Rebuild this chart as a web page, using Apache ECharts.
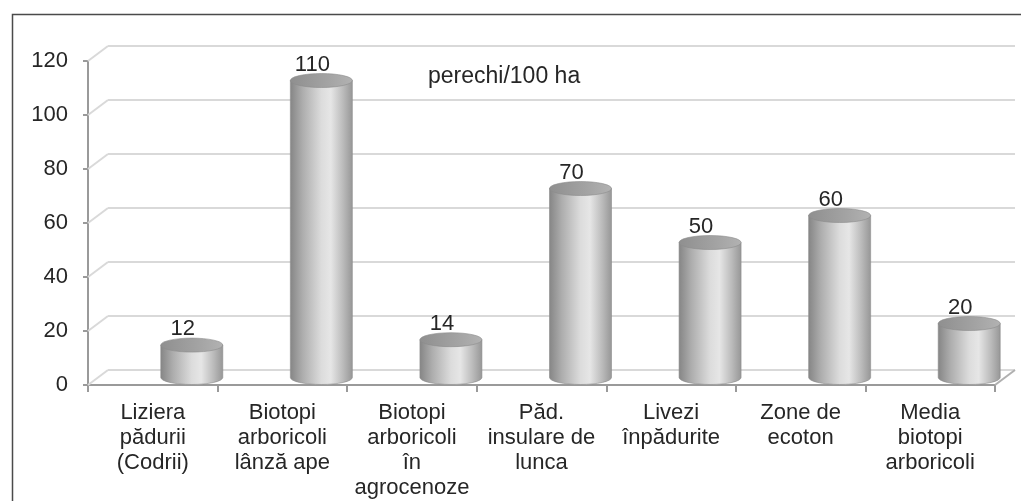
<!DOCTYPE html>
<html>
<head>
<meta charset="utf-8">
<script src="https://cdn.jsdelivr.net/npm/echarts@6/dist/echarts.min.js"></script>
<style>
html,body{margin:0;padding:0;background:#fff;}
#c{width:1021px;height:501px;}
</style>
</head>
<body>
<div id="c"></div>
<script>
const categories = [
  'Liziera\npădurii\n(Codrii)',
  'Biotopi\narboricoli\nlânză ape',
  'Biotopi\narboricoli\nîn\nagrocenoze',
  'Păd.\ninsulare de\nlunca',
  'Livezi\nînpădurite',
  'Zone de\necoton',
  'Media\nbiotopi\narboricoli'
];
const values = [12, 110, 14, 70, 50, 60, 20];
const yTicks = [0, 20, 40, 60, 80, 100, 120];
const unitText = 'perechi/100 ha';

const FONT = '"Liberation Sans", Arial, sans-serif';
const DX = 20, DY = 15;          // depth offset of back wall
const BAR_DX = 39, BAR_DY = 7.5; // bar placement offset
const HW = 31, RY = 7;

const bodyGrad = {
  type: 'linear', x: 0, y: 0, x2: 1, y2: 0,
  colorStops: [
    {offset: 0, color: '#858585'},
    {offset: 0.2, color: '#adadad'},
    {offset: 0.5, color: '#dcdcdc'},
    {offset: 0.65, color: '#e6e6e6'},
    {offset: 0.85, color: '#bababa'},
    {offset: 1, color: '#969696'}
  ]
};
const topGrad = {
  type: 'linear', x: 0, y: 0, x2: 1, y2: 0,
  colorStops: [
    {offset: 0, color: '#8f8f8f'},
    {offset: 0.6, color: '#a3a3a3'},
    {offset: 1, color: '#b2b2b2'}
  ]
};

const chart = echarts.init(document.getElementById('c'), null, {renderer: 'canvas'});

chart.setOption({
  animation: false,
  backgroundColor: '#ffffff',
  graphic: [
    {type: 'rect', left: 10, top: 12, shape: {x: 0, y: 0, width: 1010, height: 495},
     style: {fill: 'none', stroke: '#4a4a4a', lineWidth: 1.5}, z: 100},
    {type: 'text', left: 428, top: 65, style: {text: unitText, font: '23px ' + FONT, fill: '#262626'}, z: 100}
  ],
  grid: [
    {left: 88, right: 26, top: 61, bottom: 116, containLabel: false},
    {left: 88 + DX, right: 26 - DX, top: 61 - DY, bottom: 116 + DY, containLabel: false}
  ],
  xAxis: [
    {
      type: 'category', gridIndex: 0, data: categories,
      boundaryGap: true,
      axisLine: {show: true, lineStyle: {color: '#9a9a9a', width: 2}},
      axisTick: {show: true, length: 7, lineStyle: {color: '#9a9a9a', width: 2}},
      axisLabel: {interval: 0, margin: 15, color: '#262626', fontSize: 22, lineHeight: 25, fontFamily: FONT},
      splitLine: {show: false}
    },
    {type: 'value', gridIndex: 1, show: false, min: 0, max: 1}
  ],
  yAxis: [
    {
      type: 'value', gridIndex: 0, min: 0, max: 120, interval: 20,
      axisLine: {show: true, lineStyle: {color: '#9a9a9a', width: 2}},
      axisTick: {show: true, length: 5, lineStyle: {color: '#9a9a9a', width: 2}},
      axisLabel: {margin: 20, color: '#262626', fontSize: 22, fontFamily: FONT},
      splitLine: {show: false}
    },
    {
      type: 'value', gridIndex: 1, min: 0, max: 120, interval: 20,
      axisLine: {show: false}, axisTick: {show: false}, axisLabel: {show: false},
      splitLine: {show: true, lineStyle: {color: '#d9d9d9', width: 2}}
    }
  ],
  series: [
    {
      type: 'custom', xAxisIndex: 0, yAxisIndex: 0, clip: false, z: 1,
      data: yTicks.map(v => [0, v]),
      renderItem: function (params, api) {
        const v = api.value(1);
        const p = api.coord([0, v]);
        const cs = params.coordSys;
        const x0 = cs.x;
        const children = [{
          type: 'line',
          shape: {x1: x0, y1: p[1], x2: x0 + DX, y2: p[1] - DY},
          style: {stroke: '#d9d9d9', lineWidth: 2}
        }];
        if (v === 0) {
          children.push({
            type: 'line',
            shape: {x1: cs.x + cs.width, y1: p[1], x2: cs.x + cs.width + DX, y2: p[1] - DY},
            style: {stroke: '#b0b0b0', lineWidth: 2}
          });
        }
        return {type: 'group', children: children};
      }
    },
    {
      type: 'custom', xAxisIndex: 0, yAxisIndex: 0, clip: false, z: 5,
      data: values.map((v, i) => [i, v]),
      renderItem: function (params, api) {
        const i = api.value(0);
        const v = api.value(1);
        const top = api.coord([i, v]);
        const base = api.coord([i, 0]);
        const cx = top[0] + BAR_DX;
        const ty = top[1] - BAR_DY;
        const by = base[1] - BAR_DY;
        const l = cx - HW, r = cx + HW;
        const body = 'M' + l + ',' + ty + ' L' + l + ',' + by +
          ' A' + HW + ',' + RY + ' 0 0 0 ' + r + ',' + by +
          ' L' + r + ',' + ty + ' Z';
        const cap = 'M' + l + ',' + ty +
          ' A' + HW + ',' + RY + ' 0 1 0 ' + r + ',' + ty +
          ' A' + HW + ',' + RY + ' 0 1 0 ' + l + ',' + ty + ' Z';
        return {
          type: 'group',
          children: [
            {type: 'path', shape: {pathData: body}, style: {fill: bodyGrad, stroke: '#8c8c8c', lineWidth: 0.6}},
            {type: 'path', shape: {pathData: cap}, style: {fill: topGrad, stroke: '#8c8c8c', lineWidth: 0.6}},
            {type: 'text', x: cx - 9, y: ty - 16,
             style: {text: String(v), font: '22px ' + FONT, fill: '#262626', textAlign: 'center', textVerticalAlign: 'middle'}}
          ]
        };
      }
    }
  ]
});
</script>
</body>
</html>
